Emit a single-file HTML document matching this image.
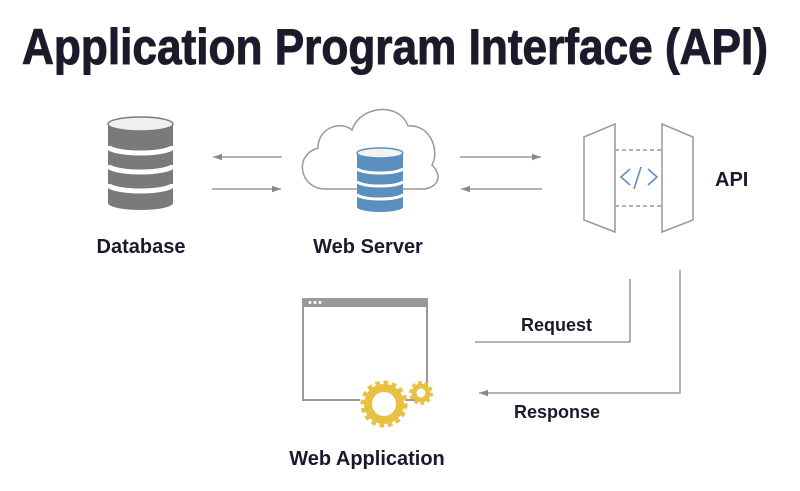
<!DOCTYPE html>
<html><head><meta charset="utf-8"><style>
html,body{margin:0;padding:0;background:#fff}
svg{display:block}
text{font-family:"Liberation Sans",sans-serif;font-weight:bold;fill:#1a1a2e}
</style></head><body>
<svg width="800" height="491" viewBox="0 0 800 491" xmlns="http://www.w3.org/2000/svg">
<defs>
<marker id="ah" markerWidth="8" markerHeight="6" refX="7" refY="3" orient="auto"><path d="M0,0.5 L7,3 L0,5.5" fill="#888"/></marker>
</defs>
<text x="22" y="64" font-size="50" textLength="746" lengthAdjust="spacingAndGlyphs" fill="#222" stroke="#222" stroke-width="1">Application Program Interface (API)</text>

<!-- Database -->
<g fill="#7a7a7a">
<path d="M108,124 L108,203 A32.5,7 0 0 0 173,203 L173,124 Z"/>
<ellipse cx="140.5" cy="124" rx="32.5" ry="7" fill="#f0f0f0" stroke="#7a7a7a" stroke-width="1.5"/>
</g>
<g stroke="#fff" stroke-width="5" fill="none">
<path d="M108,146 A32.5,7 0 0 0 173,146"/>
<path d="M108,165 A32.5,7 0 0 0 173,165"/>
<path d="M108,184 A32.5,7 0 0 0 173,184"/>
</g>

<!-- arrows -->
<g stroke="#888" stroke-width="1.3">
<line x1="282" y1="157" x2="213" y2="157" marker-end="url(#ah)"/>
<line x1="212" y1="189" x2="281" y2="189" marker-end="url(#ah)"/>
<line x1="460" y1="157" x2="541" y2="157" marker-end="url(#ah)"/>
<line x1="542" y1="189" x2="461" y2="189" marker-end="url(#ah)"/>
</g>

<!-- Cloud -->
<path d="M325,189 C300,189 293,155 318,148 C318,128 340,120 352,130 C360,105 400,102 408,126 C430,124 440,150 432,165 C445,178 435,190 420,189 Z" fill="none" stroke="#999" stroke-width="1.5"/>
<!-- blue db -->
<path d="M357,153 L357,207 A23,5 0 0 0 403,207 L403,153 Z" fill="#5b8fc0"/>
<ellipse cx="380" cy="153" rx="23" ry="5" fill="#f3f3f3" stroke="#5b8fc0" stroke-width="1.5"/>
<g stroke="#fff" stroke-width="3" fill="none">
<path d="M357,168 A23,5 0 0 0 403,168"/>
<path d="M357,181 A23,5 0 0 0 403,181"/>
<path d="M357,194 A23,5 0 0 0 403,194"/>
</g>

<!-- API icon -->
<g fill="none" stroke="#999" stroke-width="1.5">
<polygon points="584,137 615,124 615,232 584,220"/>
<polygon points="662,124 693,137 693,220 662,232"/>
<line x1="615" y1="150" x2="662" y2="150" stroke-dasharray="4,3"/>
<line x1="615" y1="206" x2="662" y2="206" stroke-dasharray="4,3"/>
</g>
<g fill="none" stroke="#5b8fc0" stroke-width="1.6">
<polyline points="630,169 621,177 630,185"/>
<line x1="641" y1="167" x2="634" y2="189"/>
<polyline points="648,169 657,177 648,185"/>
</g>
<text x="715" y="186" font-size="20">API</text>

<text x="141" y="253" font-size="20" text-anchor="middle">Database</text>
<text x="368" y="253" font-size="20" text-anchor="middle">Web Server</text>

<!-- request / response -->
<g stroke="#888" stroke-width="1.3" fill="none">
<polyline points="630,279 630,342 475,342"/>
<polyline points="680,270 680,393 479,393" marker-end="url(#ah)"/>
</g>
<text x="521" y="331" font-size="18">Request</text>
<text x="514" y="418" font-size="18">Response</text>

<!-- Web app window -->
<rect x="303" y="299" width="124" height="101" fill="none" stroke="#999" stroke-width="2"/>
<rect x="303" y="298" width="124" height="9" fill="#999"/>
<g fill="#fff"><circle cx="310" cy="302.5" r="1.5"/><circle cx="315" cy="302.5" r="1.5"/><circle cx="320" cy="302.5" r="1.5"/></g>
<rect x="360" y="376" width="45" height="30" fill="#fff"/>
<!-- gears -->
<g fill="none" stroke="#e8c043">
<circle cx="384" cy="404" r="16" stroke-width="8"/>
<circle cx="384" cy="404" r="21" stroke-width="5" stroke-dasharray="4.5,3.7"/>
<circle cx="421" cy="393" r="7" stroke-width="5"/>
<circle cx="421" cy="393" r="10.5" stroke-width="3" stroke-dasharray="3.5,3.1"/>
</g>
<text x="367" y="465" font-size="20" text-anchor="middle">Web Application</text>
</svg>
</body></html>
